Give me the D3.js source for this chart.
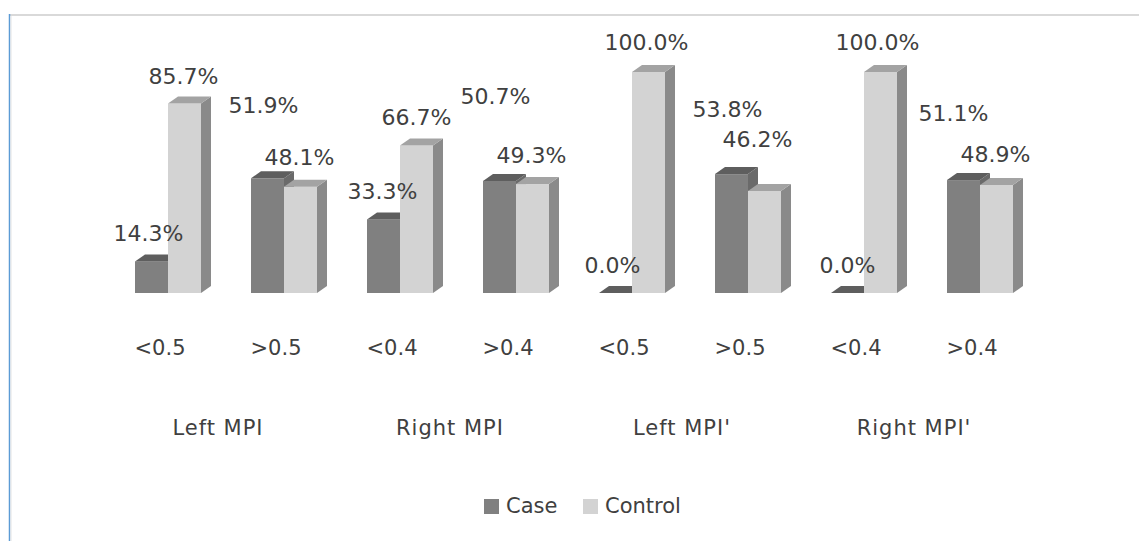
<!DOCTYPE html>
<html>
<head>
<meta charset="utf-8">
<script src="https://cdn.jsdelivr.net/npm/d3@7"></script>
<style>
  html, body { margin: 0; padding: 0; background: #ffffff; }
  svg { display: block; }
</style>
</head>
<body>
<svg id="chart" width="1139" height="541"></svg>
<script>
// ---- data ----
const categories = ["<0.5", ">0.5", "<0.4", ">0.4", "<0.5", ">0.5", "<0.4", ">0.4"];
const groups = ["Left MPI", "Right MPI", "Left MPI'", "Right MPI'"];
const seriesNames = ["Case", "Control"];
const caseValues = [14.3, 51.9, 33.3, 50.7, 0.0, 53.8, 0.0, 51.1];
const controlValues = [85.7, 48.1, 66.7, 49.3, 100.0, 46.2, 100.0, 48.9];

// label placement (layout, as in the original's data-label nudges)
const caseLabelLift = [20, 65, 20, 77, 20, 57, 20, 59];
const controlLabelLift = [20, 22, 21, 21, 22, 44, 22, 23];
const caseLabelDx = [-3, -4, -1, -4, -3, -4, 0, -10];
const controlLabelDx = [-1, -1, 0, -1, -2, -7, -3, -1];

// ---- layout ----
const svg = d3.select("#chart");
const W = 1139, H = 541;
const depthX = 10, depthY = -7;

const x = d3.scaleBand().domain(d3.range(categories.length)).range([110, 1038]).padding(0);
const xs = d3.scaleBand().domain(seriesNames).range([-33, 33]).padding(0);
const y = d3.scaleLinear().domain([0, 100]).range([293, 72]);

const colors = {
  Case: { front: "#808080", top: "#5e5e5e", side: "#6a6a6a" },
  Control: { front: "#d3d3d3", top: "#a3a3a3", side: "#8a8a8a" }
};

// frame
svg.append("rect").attr("x", 0).attr("y", 0).attr("width", W).attr("height", H).attr("fill", "#ffffff");
svg.append("line").attr("x1", 10).attr("x2", W).attr("y1", 15).attr("y2", 15)
  .attr("stroke", "#d9d9d9").attr("stroke-width", 2);
svg.append("line").attr("x1", 9.5).attr("x2", 9.5).attr("y1", 14).attr("y2", H)
  .attr("stroke", "#5b9bd5").attr("stroke-width", 1.5);
svg.append("line").attr("x1", 11).attr("x2", 11).attr("y1", 16).attr("y2", H)
  .attr("stroke", "#e3e3e3").attr("stroke-width", 1);

const rows = categories.map((c, i) => ({
  i, c,
  values: [
    { s: "Case", v: caseValues[i], lift: caseLabelLift[i], dx: caseLabelDx[i] },
    { s: "Control", v: controlValues[i], lift: controlLabelLift[i], dx: controlLabelDx[i] }
  ]
}));

const g = svg.append("g");
rows.forEach(r => {
  const cx = x(r.i) + x.bandwidth() / 2;
  r.values.forEach(d => {
    const x0 = cx + xs(d.s), x1 = x0 + xs.bandwidth();
    const yt = y(d.v), yb = y(0);
    const col = colors[d.s];
    // side face
    g.append("path")
      .attr("d", `M${x1},${yb} L${x1 + depthX},${yb + depthY} L${x1 + depthX},${yt + depthY} L${x1},${yt} Z`)
      .attr("fill", col.side);
    // front face
    g.append("rect").attr("x", x0).attr("y", yt).attr("width", x1 - x0).attr("height", yb - yt)
      .attr("fill", col.front);
    // top face
    g.append("path")
      .attr("d", `M${x0},${yt} L${x0 + depthX},${yt + depthY} L${x1 + depthX},${yt + depthY} L${x1},${yt} Z`)
      .attr("fill", col.top);
  });
});

// value labels
rows.forEach(r => {
  const cx = x(r.i) + x.bandwidth() / 2;
  r.values.forEach(d => {
    svg.append("text")
      .attr("x", cx + xs(d.s) + xs.bandwidth() / 2 + d.dx)
      .attr("y", y(d.v) - d.lift)
      .attr("text-anchor", "middle")
      .attr("font-family", "DejaVu Sans, sans-serif")
      .attr("font-size", 22)
      .attr("fill", "#404040")
      .text(d.v.toFixed(1) + "%");
  });
});

// category labels
svg.append("g").selectAll("text").data(rows).join("text")
  .attr("x", d => x(d.i) + x.bandwidth() / 2 - 8)
  .attr("y", 355)
  .attr("text-anchor", "middle")
  .attr("font-family", "DejaVu Sans, sans-serif")
  .attr("font-size", 21)
  .attr("fill", "#404040")
  .text(d => d.c);

// group labels
svg.append("g").selectAll("text").data(groups).join("text")
  .attr("x", (d, gi) => (x(gi * 2) + x(gi * 2 + 1)) / 2 + x.bandwidth() / 2 - 8)
  .attr("y", 435)
  .attr("text-anchor", "middle")
  .attr("font-family", "DejaVu Sans, sans-serif")
  .attr("font-size", 21)
  .attr("letter-spacing", 1)
  .attr("fill", "#404040")
  .text(d => d);

// legend
const legendX = [484, 583];
const leg = svg.append("g").selectAll("g").data(seriesNames).join("g")
  .attr("transform", (d, i) => `translate(${legendX[i]},499)`);
leg.append("rect").attr("width", 15).attr("height", 15).attr("fill", d => colors[d].front);
leg.append("text").attr("x", 22).attr("y", 14)
  .attr("font-family", "DejaVu Sans, sans-serif")
  .attr("font-size", 21)
  .attr("fill", "#404040")
  .text(d => d);
</script>
</body>
</html>
